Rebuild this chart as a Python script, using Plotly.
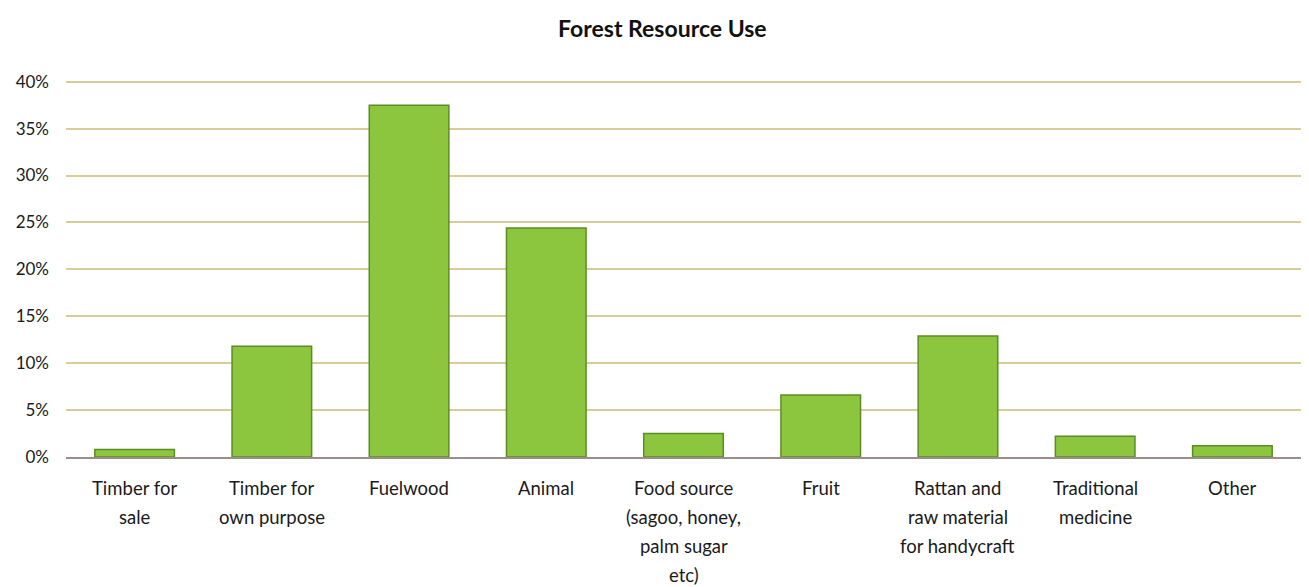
import plotly.graph_objects as go

# Share of households using each forest resource
categories = [
    "Timber for sale",
    "Timber for own purpose",
    "Fuelwood",
    "Animal",
    "Food source (sagoo, honey, palm sugar etc)",
    "Fruit",
    "Rattan and raw material for handycraft",
    "Traditional medicine",
    "Other",
]
# Wrapped category text, one list of lines per category
category_lines = [
    ["Timber for", "sale"],
    ["Timber for", "own purpose"],
    ["Fuelwood"],
    ["Animal"],
    ["Food source", "(sagoo, honey,", "palm sugar", "etc)"],
    ["Fruit"],
    ["Rattan and", "raw material", "for handycraft"],
    ["Traditional", "medicine"],
    ["Other"],
]
shares = [0.8, 11.8, 37.5, 24.4, 2.5, 6.6, 12.9, 2.2, 1.2]
y_ticks = [0, 5, 10, 15, 20, 25, 30, 35, 40]
y_tick_labels = [f"{v}%" for v in y_ticks]

font_family = "Lato, 'Open Sans', sans-serif"
label_size = 18.5
first_line_offset = 31
line_step = 29

fig = go.Figure(
    go.Bar(
        x=categories,
        y=shares,
        marker=dict(color="#8cc63e", line=dict(color="#5e8c24", width=1.5)),
        hoverinfo="x+y",
    )
)

# Category labels, with the roomier line spacing of the original layout
annotations = []
for cat, lines in zip(categories, category_lines):
    for i, line in enumerate(lines):
        annotations.append(
            dict(
                x=cat,
                y=0,
                xref="x",
                yref="y",
                text=line,
                showarrow=False,
                xanchor="center",
                yanchor="middle",
                yshift=-(first_line_offset + i * line_step),
                font=dict(family=font_family, size=label_size, color="#1a1a1a"),
            )
        )

fig.update_layout(
    width=1309,
    height=587,
    margin=dict(l=66, r=8, t=77, b=130),
    paper_bgcolor="white",
    plot_bgcolor="white",
    bargap=0.42,
    showlegend=False,
    title=dict(
        text="<b>Forest Resource Use</b>",
        x=0.506,
        xanchor="center",
        y=0.95,
        yanchor="middle",
        font=dict(family=font_family, size=23, color="#111111"),
    ),
    font=dict(family=font_family, size=17, color="#1a1a1a"),
    annotations=annotations,
)

fig.update_xaxes(
    showline=True,
    linecolor="#9b8d8a",
    linewidth=1.5,
    ticks="",
    showticklabels=False,
    showgrid=False,
)

fig.update_yaxes(
    range=[0, 40.5],
    tickvals=y_ticks,
    ticktext=y_tick_labels,
    showgrid=True,
    gridcolor="#d8cc98",
    gridwidth=1.5,
    zeroline=False,
    ticks="",
    tickfont=dict(size=17),
    ticklabelstandoff=16,
)

fig.write_html("out.html")
